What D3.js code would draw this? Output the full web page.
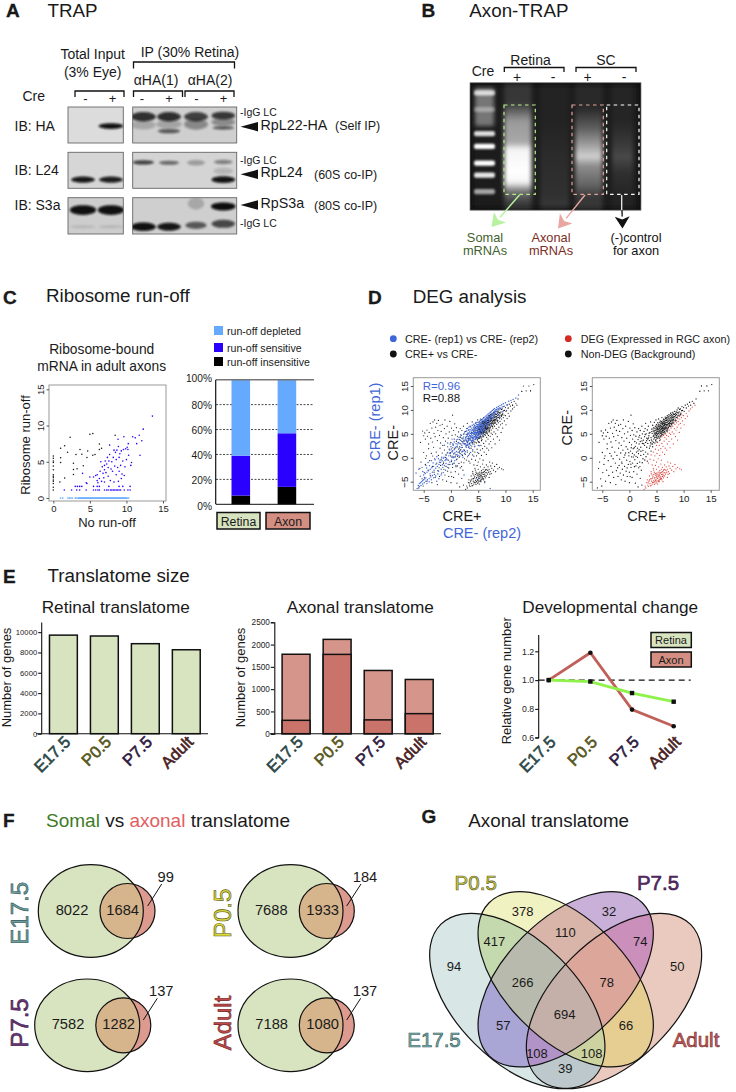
<!DOCTYPE html>
<html><head><meta charset="utf-8">
<script src="https://cdn.jsdelivr.net/npm/d3@7"></script>
<style>html,body{margin:0;padding:0;background:#fff}svg{display:block}text{font-family:"Liberation Sans",Arial,sans-serif;fill:#1a1a1a}</style>
</head><body><div id="c"></div>
<script>
// ---------- DATA ----------
const stages=["E17.5","P0.5","P7.5","Adult"];
const retinalGenes=[9706,9621,8864,8268];
const axonalTotal=[1783,2117,1419,1217];
const axonalInner=[300,1780,310,450];
const relRetina=[1,0.99,0.91,0.85];
const relAxon=[1,1.19,0.795,0.68];
const stackGroups=["Retina","Axon"];
const stackInsensitive=[7,14];
const stackSensitive=[32,43];
const stackDepleted=[61,43];
const stackNames=["run-off depleted","run-off sensitive","run-off insensitive"];
const pctTicks=[0,20,40,60,80,100];
const somalOnly=[8022,7688,7582,7188];
const overlap=[1684,1933,1282,1080];
const axonOnly=[99,184,137,137];
const venn4=[[[0],94],[[1],378],[[2],32],[[3],50],[[0,1],417],[[1,2],110],[[2,3],74],[[0,1,2],266],[[1,2,3],78],[[0,2],57],[[0,1,2,3],694],[[1,3],66],[[0,2,3],108],[[0,1,3],108],[[0,3],39]];
const runoffInsensitive=[[0,5.8],[0,5.5],[0,5.1],[0,4.9],[0,4.4],[0,3.9],[0,3.2],[0,3],[0,2.8],[0,2.5],[0,2.3],[0,2],[0,1.5],[0,1.1],[1,6.85],[1.55,7.2],[1,5.55],[1,4.9],[.9,2.2],[1.55,2.75],[1.95,6.3],[2.3,8.4],[2.75,4.8],[2.75,3.95],[2.75,3.25],[3.1,6],[3.25,4.05],[3.65,6.7],[3.9,6.05],[4.1,4.45],[4.6,5.6],[4.7,6.5],[5,8.8],[5.4,8.9],[5.4,5.9],[5.7,6],[6.3,7.45],[6.3,6.7],[6.6,6.85],[8.45,8.65]];
const runoffSensitive=[[13.55,11.3],[12.3,9.5],[11.75,8.65],[10.85,8.45],[11.2,8.3],[9.65,8.45],[8.85,8.1],[7.7,7.3],[12.1,7.9],[11.4,7.5],[10.25,7.5],[11.85,5.9],[10.7,4.9],[10.6,4.5],[1.5,1.1],[2.5,1.1],[3,1.6],[3.3,1.6],[3.6,1.6],[3.9,1.6],[3.2,1.1],[3.6,1.1],[4.5,1.1],[4.6,2],[5.5,1.1],[5.8,1.1],[6.1,1.1],[6.3,1.1],[7,1.1],[7.3,1.1],[7.5,1.1],[7.8,1.1],[8,1.1],[8.2,1.1],[8.4,1.1],[8.6,1.1],[8.8,1.1],[9,1.1],[9.2,1.1],[9.7,1.1],[10.2,1.1],[10.5,1.1],[5.5,1.6],[6,1.6],[6.3,1.6],[7.6,1.6],[9,1.6],[9.5,1.6],[10.5,1.6],[4,3.4],[4.5,2.1],[5,2.9],[5.5,2.9],[5.8,3.1],[6,2.4],[6,3.2],[6.1,2.1],[6.3,2.7],[6.4,3.7],[6.5,5],[6.6,2.3],[6.7,4.3],[6.8,3.4],[6.9,2.8],[7,3.9],[7,4.5],[7.1,5.1],[7,2.2],[7.2,3.5],[7.3,4.7],[7.4,5.6],[7.5,3],[7.5,4.2],[7.6,5.1],[7.7,6],[7.8,2.4],[7.9,4],[8,5],[8.1,3.7],[8.2,5.6],[8.3,2.2],[8.3,6.6],[8.4,4.4],[8.5,6.3],[8.6,3.2],[8.6,5.3],[8.7,6.6],[8.8,4.2],[8.9,2.3],[8.9,7.1],[9,5.6],[9,3.7],[9.1,6.1],[9.2,4.5],[9.3,2.7],[9.3,6.5],[9.4,3.3],[9.5,5.1],[9.6,6.7],[9.7,3.1],[9.8,4.3],[9.9,6.8],[10,5.3],[10.1,7],[10.2,6.7],[10.3,5.9]];
const runoffDepletedX=[1,1.3,2,2.2,2.4,2.6,3,3.2,3.4,3.5,3.6,3.7,3.8,3.9,4,4.1,4.2,4.3,4.4,4.5,4.6,4.7,4.8,4.9,5,5.1,5.2,5.3,5.4,5.5,5.6,5.7,5.8,5.9,6,6.1,6.2,6.3,6.4,6.5,6.6,6.7,6.8,6.9,7,7.1,7.2,7.3,7.4,7.5,7.6,7.7,7.8,7.9,8,8.1,8.2,8.3,8.4,8.5,8.6,8.7,8.8,8.9,9,9.1,9.2,9.3,9.4,9.5,9.6,9.7,9.8,9.9,10,10.1,10.3];
const nonDegSparse=[[-5.6,3.2],[-5.2,5.6],[-5,4.6],[-4.8,5.2],[-4.7,3.9],[-4.4,5.8],[-4.3,4.5],[-4.1,2.9],[-4,5.3],[-3.8,7.2],[-3.7,4.1],[-3.5,6.2],[-3.4,3.3],[-3.3,7.5],[-3.1,5.1],[-3,7.9],[-2.9,4.4],[-2.8,6.4],[-2.6,7.2],[-2.5,3.6],[-2.4,5.7],[-2.3,7.8],[-2.1,4.7],[-2,6.8],[-1.9,3.1],[-1.8,5.5],[-1.6,7],[-1.5,2.6],[-1.4,4.2],[-1.2,6.1],[-1.1,7.9],[-1,3.5],[-.9,5],[-.7,6.6],[-.6,2.3],[-.5,4.1],[-.3,5.4],[-.2,7.6],[0,3.2],[.1,6.2],[.2,4.7],[.3,8.9],[.4,2.7],[.5,5.7],[.6,3.9],[.7,7.1],[.8,4.8],[.9,2.1],[1,6.3],[1,3.4],
[-5.9,-6.3],[-5.7,-2.2],[-5.5,-.9],[-5.3,-4.4],[-5.1,-5.9],[-5,1.1],[-4.9,-3.1],[-4.7,-1.4],[-4.5,.4],[-4.4,-4.9],[-4.2,-2.6],[-4.1,1.9],[-3.9,-.6],[-3.8,-3.7],[-3.6,.9],[-3.5,-5.2],[-3.4,-1.8],[-3.2,2.2],[-3.1,-3],[-3,-.2],[-2.9,-4.1],[-2.7,1.2],[-2.6,-1.1],[-2.5,-5.6],[-2.4,-2.7],[-2.3,.5],[-2.1,-3.9],[-2,2],[-1.9,-1.6],[-1.8,-.3],[-1.7,-3.2],[-1.6,1],[-1.5,-4.6],[-1.4,-.9],[-1.3,-2.4],[-1.2,1.6],[-1.1,-3.6],[-1,.1],[-.9,-1.8],[-.8,-4.9],[-.7,1],[-.6,-2.8],[-.5,-.5],[-.4,-3.9],[-.3,1.8],[-.2,-1.4],[-.1,.4],[0,-3],[0,-5.2],[.1,-.8],[.2,1.4],[.3,-2],[.4,.2],[.5,-4.1],[.6,-1.1],[.7,1.9],[.8,-2.9],[.9,.6],[1,-.4],[1.1,-5.3],[1.2,-1.7],[1.3,1.2],[1.4,-3.4],[1.5,.1],[1.6,-6.1],[1.7,-2.1],[1.8,1.7],[1.9,-.9],[2,-4.3],[2.1,.5],[2.2,-2.6],[2.3,-5.7],[2.5,-.2],
[-1.37,-1.22],[-.84,.58],[-.41,-2.13],[-.12,1.07],[.27,-1.34],[.56,.93],[.93,-1.86],[1.22,.31],[1.46,-1.18],[1.68,.86],[1.94,-1.83],[2.13,1.36],[2.37,-1.04],[2.62,.72],[2.84,-.46],[3.06,.21],[3.29,-.71],[.34,2.09],[.71,.14],[1.58,1.41],[.13,-3.92],[-2.17,-2.08],[-3.34,.37],[-4.63,-.12]];
const nonDegCore=[[1.1,2.4],[1.2,4.5],[1.3,3.1],[1.4,5.4],[1.5,2],[1.6,3.8],[1.7,6.1],[1.8,2.9],[1.9,4.7],[2,3.4],[2,5.7],[2.1,2.2],[2.2,4.1],[2.3,6.6],[2.4,3],[2.4,5],[2.5,1.5],[2.6,3.7],[2.7,5.5],[2.8,2.6],[2.8,4.4],[2.9,6.1],[3,1.2],[3,3.2],[3,7.2],[3.1,5],[3.2,2.2],[3.2,4.1],[3.3,5.8],[3.4,.8],[3.4,3],[3.5,6.6],[3.6,4.6],[3.7,2],[3.7,3.6],[3.8,5.3],[3.9,7.5],[4,1.4],[4,2.9],[4,4.2],[4.1,6],[4.2,3.5],[4.2,5.1],
[4.3,6.8],[4.3,2.3],[4.4,4.5],[4.4,5.6],[4.5,3.9],[4.5,6.3],[4.6,5],[4.6,7.4],[4.7,3.1],[4.7,4.3],[4.7,5.7],[4.8,6.6],[4.8,4.8],[4.9,5.3],[4.9,7.9],[4.9,3.8],[5,6],[5,4.6],[5,5.1],[5,6.9],[5.1,5.6],[5.1,4.1],[5.1,6.4],[5.2,5],[5.2,7.3],[5.2,5.9],[5.3,4.5],[5.3,6.2],[5.3,6.8],[5.4,5.4],[5.4,5.9],[5.4,8.1],[5.5,4.8],[5.5,6.5],[5.5,7.4],[5.6,5.6],[5.6,6.1],[5.6,3.6],[5.7,5.1],[5.7,6.8],[5.7,7.7],[5.8,5.8],[5.8,6.3],[5.8,4.6],[5.9,5.4],[5.9,7.1],[5.9,6.6],[6,6],[6,8.4],[6,5.2],[6,7.4],[6.1,6.4],[6.1,5.7],[6.1,6.9],[6.2,5.3],[6.2,7.7],[6.2,6.2],[6.3,6.6],[6.3,7.2],[6.3,5.8],[6.4,8],[6.4,6.3],[6.4,5],[6.5,6.9],[6.5,7.5],[6.5,5.9],[6.6,6.5],[6.6,8.5],[6.7,7.1],[6.7,6.1],[6.7,7.8],[6.8,6.7],[6.8,5.6],[6.9,7.4],[6.9,8.2],[6.9,6.4],[7,7],[7,8.8],[7,6],[7.1,7.7],[7.1,6.7],[7.2,8.3],[7.2,7.2],[7.2,6.3],[7.3,7.9],[7.3,9],[7.4,7.4],[7.4,6.8],[7.5,8.5],[7.5,7.8],[7.6,7.2],[7.6,9.3],[7.7,8.1],[7.7,7.5],[7.8,8.7],[7.8,6.9],[7.9,7.9],[7.9,9.5],[8,8.4],[8,7.5],[8.1,9],[8.1,8],[8.2,8.6],[8.2,7.3],[8.3,9.7],[8.4,8.3],[8.4,9.1],[8.5,8.8],[8.6,7.8],[8.6,9.6],[8.7,9],[8.8,8.4],[8.8,10],[8.9,9.4],[9,8.9],[9,10.4],[9.2,9.6],[9.3,8.9],[9.4,10.2],[9.5,9.3],[9.7,10.7],[9.8,9.9],[10,10.5],[10.1,9.7],[10.3,11],[10.5,10.4],[10.7,11.2],[10.9,10.8],[11.1,11.6],[11.3,11],[11.6,11.8],[11.9,11.4],[12.3,12.3],[13,13.9],[13.3,15],[13.8,14],[14.3,15],[14.6,14],[15.2,15.3],
[3.37,3.92],[3.64,5.13],[3.82,2.46],[4.06,3.74],[4.13,5.47],[4.28,2.88],[4.36,6.03],[4.43,3.27],[4.52,4.71],[4.57,5.39],[4.64,4.17],[4.73,6.14],[4.76,5.02],[4.84,3.56],[4.87,5.76],[4.93,4.29],[4.96,6.42],[5.04,5.37],[5.07,3.33],[5.13,4.82],[5.16,6.13],[5.23,5.48],[5.27,4.13],[5.31,6.57],[5.36,5.11],[5.42,7.02],[5.46,4.37],[5.48,5.63],[5.53,6.22],[5.58,4.12],[5.61,5.24],[5.63,6.83],[5.68,5.87],[5.72,4.38],[5.74,7.26],[5.78,5.43],[5.83,6.54],[5.86,5.02],[5.88,7.58],[5.92,6.08],[5.96,4.76],[6.03,6.47],[6.04,5.53],[6.07,7.17],[6.12,6.08],[6.16,4.86],[6.18,7.39],[6.23,5.66],[6.27,6.83],[6.29,8.06],[6.34,6.14],[6.36,7.57],[6.38,5.36],[6.43,6.76],[6.46,7.22],[6.49,5.53],[6.53,6.17],[6.57,7.73],[6.59,5.21],[6.63,6.93],[6.66,8.17],[6.69,6.36],[6.74,7.37],[6.77,5.83],[6.79,8.42],[6.83,6.94],[6.87,7.79],[6.93,6.17],[6.96,8.04],[7.03,7.46],[7.06,5.63],[7.08,8.48],[7.13,7.03],[7.17,6.42],[7.24,7.68],[7.27,8.67],[7.33,7.16],[7.36,6.58],[7.43,8.14],[7.46,7.07],[7.53,8.86],[7.57,7.63],[7.63,6.53],[7.66,8.36],[7.74,7.13],[7.76,9.02],[7.83,7.83],[7.87,8.33],[7.93,7.26],[7.96,8.76],[8.04,7.87],[8.07,9.3],[8.13,8.34],[8.23,7.72],[8.27,9.07],[8.36,8.62],[8.45,7.92],[8.53,9.28],[8.66,8.43],[8.76,9.53],[8.94,8.72],[9.07,9.37],[9.26,10.1],[9.44,9.03],[9.63,9.83],[3.18,3.57],[2.64,2.93],[2.92,4.86],[3.53,4.13],[2.33,3.52],[1.76,4.31],[3.94,3.16]];
const nonDeg=nonDegSparse.concat(nonDegCore);
const degLower=[[2.7,-6.6],[2.9,-5.9],[3,-6.3],[3.2,-5.2],[3.3,-4.6],[3.4,-5.7],[3.5,-6],[3.6,-4.9],[3.7,-3.8],[3.8,-5.4],[3.9,-4.4],[4,-5.8],[4,-2.9],[4.1,-4.9],[4.2,-3.6],[4.2,-5.5],[4.3,-4.2],[4.4,-5.1],[4.4,-2.2],[4.5,-3.5],[4.5,-4.7],[4.6,-5.6],[4.6,-3],[4.7,-4.1],[4.7,-5],[4.8,-3.6],[4.8,-1.6],[4.9,-4.5],[4.9,-5.3],[5,-3.2],[5,-4],[5,-2.4],[5.1,-4.8],[5.1,-3.6],[5.2,-5.5],[5.2,-4.3],[5.3,-3],[5.3,-3.9],[5.4,-4.7],[5.4,-1.9],[5.5,-3.4],[5.5,-5],[5.5,-4.2],[5.6,-2.7],[5.6,-3.8],[5.7,-4.5],[5.7,-3.2],[5.8,-1.3],[5.8,-4],[5.9,-2.4],[5.9,-3.5],[6,-4.6],[6,-3],[6.1,-3.9],[6.1,-2],[6.2,-3.4],[6.2,-5],[6.3,-2.6],[6.3,-4.2],[6.4,-3.1],[6.5,-1.5],[6.5,-3.8],[6.6,-2.5],[6.7,-3.4],[6.8,-1.9],[6.9,-3],[7,-4.1],[7,-2.4],[7.1,-.9],[7.2,-2.9],[7.3,-1.7],[7.4,-3.3],[7.5,-2.2],[7.6,-1.1],[7.8,-2.6],[8,-1.8],[8.2,-2.9],[8.4,-1.4],[8.6,-2.3],[8.9,-2],[9.3,-2.3],[9.6,-2.5],
[4.14,-4.37],[4.26,-5.13],[4.37,-3.86],[4.54,-5.24],[4.62,-4.38],[4.76,-3.27],[4.83,-4.76],[4.94,-3.62],[5.04,-5.06],[5.13,-4.23],[5.26,-3.42],[5.33,-4.94],[5.46,-3.73],[5.52,-4.63],[5.63,-3.14],[5.74,-4.26],[5.86,-3.03],[5.93,-4.36],[6.04,-3.46],[6.16,-2.87],[6.27,-3.76],[6.43,-2.43],[6.58,-3.13],[6.76,-2.66],[7.13,-3.42],[3.46,-5.23],[3.72,-4.63],[3.86,-5.87],[4.03,-3.33],[4.47,-2.57]];
const degUpper=[[3.5,-1.1],[3.8,-.3],[4,.6],[4.2,-1.5],[4.4,1.2],[4.5,-.5],[4.7,.4],[4.8,1.8],[5,-.9],[5,2.6],[5.1,.9],[5.2,3.2],[5.3,-.2],[5.4,1.6],[5.5,2.6],[5.6,.5],[5.7,3.8],[5.8,1.9],[5.9,-.5],[6,3],[6,4.4],[6.1,1.2],[6.2,2.4],[6.3,4.7],[6.4,3.5],[6.5,.7],[6.6,2],[6.7,5],[6.8,3.9],[6.9,1.6],[7,2.9],[7,5.4],[7.2,4.5],[7.3,3.4],[7.4,5.8],[7.5,2.1],[7.6,4.9],[7.7,6.2],[7.8,3.9],[7.9,5.4],[8,6.6],[8.1,2.9],[8.2,5],[8.3,6.1],[8.4,7],[8.5,4.4],[8.6,5.8],[8.7,7.3],[8.8,6.4],[8.9,3.7],[9,7.6],[9.1,6.9],[9.2,5.3],[9.3,8.1],[9.4,7.2],[9.5,6.2],[9.6,8.4],[9.8,7.7],[10,8.8],[10.1,6.9],[10.3,8.2],[10.5,9.3],[10.7,8.7],[11,9.8],[11.3,10.2],[11.6,10.6],[12.1,11],[7.14,6.04],[7.62,6.63],[7.37,5.17],[8.07,7.24],[8.54,7.62],[8.93,8.17],[6.54,4.27],[6.87,4.68],[9.27,8.63],[9.73,8.94]];
const deg=degLower.concat(degUpper);
const replicate=[[-6.2,-6.4],[-6,-5.8],[-5.8,-5.4],[-5.6,-5.2],[-5.4,-5],[-5.2,-4.8],[-5,-4.6],[-4.8,-4.4],[-4.6,-4.2],[-5.8,-6],[-5.5,-5.8],[-5.2,-5.5],[-4.9,-5.2],[-4.6,-4.9],[-4.3,-4.6],[-4,-4.3],[-3.7,-4],[-3.4,-3.7],[-5,-3.6],[-4.7,-3.3],[-4.4,-3],[-4.1,-2.7],[-3.8,-2.4],[-3.5,-2.1],[-3.2,-1.8],[-6.4,-3.2],[-5.9,-2.4],[-5.3,-2],[-4.6,-1.6],[-4.2,-1],[-3.6,-.6],[-4.4,-5.4],[-4,-5],[-3.6,-4.6],[-3.2,-4.2],[-2.8,-3.8],[-2.4,-3.4],[-3.4,-3],[-3.1,-2.6],[-2.8,-2.2],[-2.5,-1.8],[-2.2,-1.4],[-1.9,-1],[-2.6,-4.9],[-2.2,-4.4],[-1.8,-3.6],[-1.4,-3.1],[-1,-2.6],[-.6,-2],[-2.9,-.4],[-2.6,.2],[-2.3,-.2],[-2,-.5],[-1.7,.1],[-1.4,-.1],[-1.1,-.6],[-.8,-.1],[-1.8,-2.4],[-1.5,-2],[-1.2,-1.6],[-.9,-1.2],[-.5,-1.4],[-.2,-.9],[.1,-.5],[.4,-1.2],[.7,-.6],[-.4,.4],[-.1,.9],[.2,.3],[.5,.8],[.8,.2],[1.1,.7],[-1,.6],[-.6,1.1],[-.2,1.6],[.2,1.2],[.6,1.7],[1,1.3],[1.4,1.8],[0,2.3],[.4,2.6],[.8,2.2],[1.2,2.7],[1.6,2.3],[.6,3.3],[1,3.7],[1.4,3.2],[1.8,3.6],[2.2,3.1],[2,1.2],[2.4,1.7],[2.8,2.2],[1.6,.3],[2,.7],[2.5,.9],[3,1.5],[3.4,2],[3.2,.5],[3.6,1.1],[4,1.7],[4.4,2.4],[4.2,.3],[-1.2,2.6],[-.6,3.1],[4.9,1.1],[5.2,2.5],[7.2,-6.4],[6.2,-5.2],[5.1,-4.4],[2.4,-3.6],
[1.5,4.3],[1.8,4.8],[2,4.1],[2.2,3.9],[2.3,4.9],[2.5,3.5],[2.5,5.4],[2.7,2.9],[2.7,4.2],[2.8,4.9],[2.9,3.4],[2.9,5.6],[3,4],[3,4.7],[3,6.1],[3.1,3.1],[3.1,5.2],[3.2,4.4],[3.2,5.8],[3.3,3.6],[3.3,4.9],[3.3,6.4],[3.4,4.1],[3.4,5.4],[3.5,3.1],[3.5,4.6],[3.5,5.9],[3.6,3.7],[3.6,5.1],[3.6,6.5],[3.7,4.3],[3.7,5.6],[3.8,3.4],[3.8,4.8],[3.8,6.2],[3.9,4],[3.9,5.3],[3.9,6.8],[4,3.6],[4,4.6],[4,5.8],[4.1,4.2],[4.1,5.1],[4.1,6.4],[4.2,3.3],[4.2,4.8],[4.2,5.6],[4.2,7],[4.3,4.4],[4.3,5.3],[4.3,6.1],[4.4,3.8],[4.4,4.9],[4.4,5.8],[4.4,6.7],[4.5,4.4],[4.5,5.3],[4.5,6.2],[4.5,7.2],[4.6,3.9],[4.6,4.8],[4.6,5.7],[4.6,6.6],[4.7,4.5],[4.7,5.3],[4.7,6.1],[4.7,7],[4.8,4.1],[4.8,5],[4.8,5.8],[4.8,6.5],[4.8,7.4],[4.9,4.6],[4.9,5.5],[4.9,6.2],[4.9,6.9],[5,4.2],[5,5.1],[5,5.9],[5,6.6],[5,7.4],[5.1,4.8],[5.1,5.5],[5.1,6.2],[5.1,7],[5.2,4.4],[5.2,5.3],[5.2,6],[5.2,6.7],[5.2,7.6],[5.3,5],[5.3,5.7],[5.3,6.4],[5.3,7.1],[5.4,4.6],[5.4,5.4],[5.4,6.2],[5.4,6.9],[5.4,7.8],[5.5,5.2],[5.5,5.9],[5.5,6.6],[5.5,7.4],[5.6,4.9],[5.6,5.6],[5.6,6.4],[5.6,7.1],[5.6,8],[5.7,5.4],[5.7,6.1],[5.7,6.8],[5.7,7.6],[5.8,5],[5.8,5.8],[5.8,6.6],[5.8,7.3],[5.8,8.1],[5.9,5.5],[5.9,6.3],[5.9,7],[5.9,7.8],[6,5.9],[6,6.7],[6,7.5],[6,8.3],[6.1,5.4],[6.1,6.3],[6.1,7.1],[6.1,7.9],[6.2,5.9],[6.2,6.8],[6.2,7.6],[6.2,8.5],[6.3,6.4],[6.3,7.3],[6.3,8.1],[6.4,5.8],[6.4,6.9],[6.4,7.8],[6.4,8.7],[6.5,6.4],[6.5,7.4],[6.5,8.3],[6.6,7],[6.6,7.9],[6.6,8.9],[6.7,6.6],[6.7,7.5],[6.7,8.5],[6.8,7.1],[6.8,8.1],[6.8,9.1],[6.9,7.7],[6.9,8.7],[7,7.2],[7,8.3],[7,9.3],[7.1,7.9],[7.1,8.9],[7.2,8.5],[7.2,9.5],[7.3,8.1],[7.3,9.1],[7.4,8.7],[7.4,9.7],[7.5,8.3],[7.5,9.3],[7.6,8.9],[7.6,9.9],[7.7,8.5],[7.8,9.5],[7.8,10.1],[7.9,9],[8,9.8],[8,10.3],[8.1,9.3],[8.2,10],[8.3,9.6],[8.4,10.5],[8.5,10],[8.6,9.3],[8.7,10.7],[8.8,10.2],[9,10.9],[9.1,10.3],[9.3,11.1],[9.4,10.6],[9.6,11.3],[9.8,10.8],[10,11.5],[10.3,11.1],[10.6,11.8],[11,12],[11.4,12.2],[11.9,12.5],[12.4,13.1],[7.4,6.9],[8.3,7.9],[9,8.4],[9.5,9.6],[10.2,9.9],[8.8,8.9],[3,2.6],[3.3,2.3],[2,2.6],[1.7,1.5],[.2,3.9],[2.2,.1],[.9,-1.6],
[2.14,3.36],[2.34,4.37],[2.46,2.84],[2.63,3.93],[2.76,2.42],[2.86,3.67],[2.93,4.42],[3.07,3.41],[3.14,2.67],[3.23,3.87],[3.27,5.12],[3.36,2.83],[3.43,4.62],[3.54,3.94],[3.58,2.64],[3.66,4.51],[3.73,3.16],[3.76,5.14],[3.84,4.27],[3.87,5.82],[3.93,3.53],[4.03,5.13],[4.07,4.03],[4.16,5.62],[4.23,4.37],[4.27,6.44],[4.34,5.02],[4.46,4.13],[4.53,5.77],[4.64,5.21],[4.72,4.16],[4.77,6.47],[4.86,5.36],[4.94,4.24],[5.03,6.27],[5.13,5.84],[5.24,4.97],[5.34,6.86],[5.43,5.63],[5.57,6.93],[5.66,5.13],[5.76,6.37],[5.87,7.46],[5.94,6.67],[6.06,5.63],[6.14,7.43],[6.26,6.16],[6.33,7.84],[6.44,7.16],[6.54,8.03],[6.64,6.72],[6.73,8.26],[6.84,7.46],[6.94,8.41],[7.06,7.63],[7.16,8.66],[7.26,7.73],[7.36,8.36],[7.47,9.03],[7.64,8.24],[7.74,9.26],[7.93,8.64],[8.14,9.66],[8.34,10.07],[8.63,10.23],[8.94,10.43],
[.34,1.46],[.74,1.06],[1.17,2.23],[1.53,1.12],[1.87,2.14],[2.23,1.42],[2.64,1.27],[2.97,2.73],[.17,.06],[-.27,.97],[-.73,-.41],[-1.26,.13],[-1.63,-.63],[-2.12,-.93],[-2.76,-1.36],[-3.26,-1.07],[-3.93,-1.64],[-4.46,-2.13],[-5.17,-2.87],[-5.63,-3.86],[-4.86,-4.13],[-3.83,-3.36],[-3.03,-3.47],[-2.27,-2.83],[-1.57,-1.47],[-.96,-.36],[.46,.03],[1.3,.47],[1.12,-.26],[.07,1.83],[.93,2.93],[1.63,2.97],[1.27,3.87],[.36,2.94],[-.14,2.86]];
// layout helpers for figure pieces that are only scheme images in the original
const blotRows=[{n:"IB: HA",bg:"#dcdcdc",bgR:"#cfcfcf"},{n:"IB: L24",bg:"#d6d6d6",bgR:"#d4d4d4"},{n:"IB: S3a",bg:"#cdcdcd",bgR:"#cfcfcf"}];
// row, lane(0-5), fractional y in blot, relative width, fractional height, darkness
const blotBands=[[0,1,.53,1,.16,.98],[0,2,.27,1,.26,.82],[0,3,.27,.95,.26,.82],[0,4,.27,.95,.26,.74],[0,5,.24,.95,.22,.78],[0,2,.5,1,.25,.2],[0,3,.48,1,.25,.22],[0,4,.48,.95,.3,.36],[0,5,.42,.95,.22,.35],[0,3,.67,.9,.12,.62],[0,5,.58,.85,.09,.68],
[1,0,.76,.95,.17,.95],[1,1,.76,.95,.17,.92],[1,2,.28,.85,.12,.75],[1,3,.29,.8,.11,.55],[1,4,.29,.7,.15,.28],[1,5,.27,.75,.12,.42],[1,5,.52,.8,.18,.15],[1,5,.76,.95,.19,.97],
[2,0,.34,1.05,.27,.98],[2,1,.34,1.05,.27,.98],[2,0,.8,1,.08,.12],[2,1,.8,1,.08,.12],[2,2,.8,1,.24,.98],[2,3,.8,.95,.22,.95],[2,4,.16,.65,.34,.2],[2,4,.76,.85,.2,.62],[2,5,.24,.98,.22,1],[2,5,.72,.95,.22,.7]];
const gelLadder=[[.08,.75],[.21,.35],[.4,.85],[.5,1],[.63,1],[.725,.9],[.855,.6]];
const gelSmears=[
 {x0:.2,x1:.36,stops:[[.16,.12],[.3,.55],[.47,.62],[.52,.95],[.7,1],[.78,.96],[.85,.4],[.95,.12]]},
 {x0:.41,x1:.58,stops:[[.3,.03],[.6,.07],[.88,.09],[.96,.12],[1,.04]]},
 {x0:.615,x1:.775,stops:[[.2,.06],[.36,.3],[.5,.6],[.58,.8],[.65,.5],[.8,.32],[.9,.12]]},
 {x0:.83,x1:.955,stops:[[.3,.04],[.5,.14],[.58,.2],[.7,.09],[.9,.03]]}];
const gelBoxes=[["#b6f08c",504,535.3],["#e3a39a",572,603.3],["#ffffff",606.7,639]];

// ---------- CANVAS ----------
const svg=d3.select("#c").append("svg").attr("width",736).attr("height",1092);
const defs=svg.append("defs");
[["blur1",1],["blur2",2],["blur3",3.2],["blurS",.35]].forEach(([id,s])=>defs.append("filter").attr("id",id).attr("x","-40%").attr("y","-60%").attr("width","180%").attr("height","220%").append("feGaussianBlur").attr("stdDeviation",s));
function T(x,y,s,size,o={}){const t=svg.append("text").attr("x",x).attr("y",y).attr("font-size",size).text(s);
 if(o.a)t.attr("text-anchor",o.a);if(o.f)t.style("fill",o.f);if(o.w)t.attr("font-weight",o.w);if(o.s)t.style("stroke",o.s).style("stroke-width",o.sw||.4);return t;}
function R(cx,cy,s,size,o={}){const t=svg.append("text").attr("transform",`translate(${cx},${cy}) rotate(-90)`).attr("text-anchor","middle").attr("dy",".35em").attr("font-size",size).text(s);
 if(o.f)t.style("fill",o.f);if(o.s)t.style("stroke",o.s).style("stroke-width",o.sw||.4);return t;}
function L(x1,y1,x2,y2,c="#111",w=1,dash){const l=svg.append("line").attr("x1",x1).attr("y1",y1).attr("x2",x2).attr("y2",y2).style("stroke",c).style("stroke-width",w);if(dash)l.style("stroke-dasharray",dash);return l;}
function bracket(x1,x2,y1,y2){svg.append("path").attr("d",`M${x1},${y2}V${y1}H${x2}V${y2}`).attr("fill","none").style("stroke","#111").style("stroke-width",1.3);}

const letters=[["A",6,17],["B",421.5,17],["C",3,304],["D",368,304],["E",3,582.5],["F",3,826.5],["G",421.5,822.5]];
letters.forEach(l=>T(l[1],l[2],l[0],19,{w:"bold",s:"#111",sw:.3}));
[["TRAP",47.5,17],["Axon-TRAP",469.3,17],["Ribosome run-off",46,301.5],["DEG analysis",412.7,302.5],["Translatome size",47.5,581.5],["Axonal translatome",468.3,827]].forEach(t=>T(t[1],t[2],t[0],18.8));

// ---------- PANEL A ----------
const rowY=[[107,143],[152.3,188.3],[197.7,234]];
const laneX=[83,111,143.3,169,196,223.3];
rowY.forEach((r,i)=>{[[68,123.3,"bg"],[132.7,236.7,"bgR"]].forEach(([a,b,k])=>{
  const id=`cb${i}${k}`;defs.append("clipPath").attr("id",id).append("rect").attr("x",a).attr("y",r[0]).attr("width",b-a).attr("height",r[1]-r[0]);
  svg.append("rect").attr("x",a).attr("y",r[0]).attr("width",b-a).attr("height",r[1]-r[0]).attr("fill",blotRows[i][k]).style("stroke","#666").style("stroke-width",.9);
  const g=svg.append("g").attr("clip-path",`url(#${id})`);
  blotBands.filter(d=>d[0]===i&&((laneX[d[1]]<125)===(k==="bg"))).forEach(d=>{
    g.append("ellipse").attr("cx",laneX[d[1]]).attr("cy",r[0]+d[2]*(r[1]-r[0])).attr("rx",12.5*d[3]).attr("ry",d[4]*(r[1]-r[0])/2).attr("fill","#0a0a0a").attr("opacity",d[5]).attr("filter","url(#blur1)");
  });
 });
 T(14.5,[130.5,175,210][i],blotRows[i].n,14);
});
T(92.7,58.7,"Total Input",14,{a:"middle"});T(92.7,77,"(3% Eye)",14,{a:"middle"});
T(190,56.7,"IP (30% Retina)",14,{a:"middle"});
bracket(133.5,234.5,62,68.5);
T(156,85,"αHA(1)",14,{a:"middle"});T(210,85,"αHA(2)",14,{a:"middle"});
T(22.5,100.5,"Cre",14);
bracket(75,124,91,97);bracket(133.5,182.5,91,97);bracket(185,234,91,97);
[["-",85.5],["+",112.5],["-",142],["+",169],["-",196.5],["+",223.5]].forEach(d=>T(d[1],103,d[0],13,{a:"middle"}));
[[116,"-IgG LC"],[163.5,"-IgG LC"],[227,"-IgG LC"]].forEach(d=>T(240,d[0],d[1],10.5));
[[126.7],[174.3],[205]].forEach(d=>svg.append("path").attr("d",`M240.5,${d[0]}L258,${d[0]-4.7}V${d[0]+4.7}Z`).attr("fill","#111"));
T(260.5,129.5,"RpL22-HA",14.3);T(335,129.5,"(Self IP)",12.5);
T(260.5,177,"RpL24",14.3);T(314,179,"(60S co-IP)",12.5);
T(260.5,208,"RpS3a",14.3);T(314,210,"(80S co-IP)",12.5);

// ---------- PANEL B ----------
const gel={x:470,y:82.7,w:171,h:127.5};
defs.append("clipPath").attr("id","gelclip").append("rect").attr("x",gel.x).attr("y",gel.y).attr("width",gel.w).attr("height",gel.h);
svg.append("rect").attr("x",gel.x).attr("y",gel.y).attr("width",gel.w).attr("height",gel.h).attr("fill","#0d0d0d").style("stroke","#888").style("stroke-width",.8);
const gg=svg.append("g").attr("clip-path","url(#gelclip)");
gg.append("rect").attr("x",gel.x+2).attr("y",gel.y+2).attr("width",gel.w-4).attr("height",gel.h-4).attr("fill","#1c1c1c").attr("filter","url(#blur3)");
gelSmears.forEach((s,i)=>{const lg=defs.append("linearGradient").attr("id","sm"+i).attr("x1",0).attr("x2",0).attr("y1",0).attr("y2",1);
 s.stops.forEach(st=>lg.append("stop").attr("offset",st[0]).attr("stop-color","#fff").attr("stop-opacity",st[1]));
 gg.append("rect").attr("x",gel.x+s.x0*gel.w).attr("y",gel.y).attr("width",(s.x1-s.x0)*gel.w).attr("height",gel.h).attr("fill",`url(#sm${i})`).attr("filter","url(#blur2)");});
gg.append("rect").attr("x",475).attr("y",gel.y+.04*gel.h).attr("width",19).attr("height",gel.h*.3).attr("fill","#fff").attr("opacity",.4).attr("filter","url(#blur2)");
gelLadder.forEach(b=>gg.append("rect").attr("x",474).attr("y",gel.y+b[0]*gel.h-2.6).attr("width",21).attr("height",5.2).attr("rx",2).attr("fill","#fff").attr("opacity",b[1]).attr("filter","url(#blur1)"));
gelBoxes.forEach(b=>svg.append("rect").attr("x",b[1]).attr("y",105).attr("width",b[2]-b[1]).attr("height",89.3).attr("fill","none").style("stroke",b[0]).style("stroke-width",1.2).style("stroke-dasharray","3.5,3.5"));
T(483,75.5,"Cre",14,{a:"middle"});
T(530.5,64.5,"Retina",14,{a:"middle"});T(606,64.5,"SC",14,{a:"middle"});
bracket(504.3,564,67.5,72);bracket(576,636,67.5,72);
[["+",517],["-",553],["+",587.5],["-",624]].forEach(d=>T(d[1],82,d[0],14,{a:"middle"}));
function arrow(x1,y1,x2,y2,c,w,hs){const a=Math.atan2(y2-y1,x2-x1),bx=x2-hs*Math.cos(a),by=y2-hs*Math.sin(a);
 L(x1,y1,bx,by,c,w);const nx=-Math.sin(a)*hs*.62,ny=Math.cos(a)*hs*.62;
 svg.append("path").attr("d",`M${x2},${y2}L${bx+nx},${by+ny}L${bx+.25*hs*Math.cos(a)},${by+.25*hs*Math.sin(a)}L${bx-nx},${by-ny}Z`).attr("fill",c);}
arrow(519.5,195,491.5,227,"#b7f2a0",1.4,13);
arrow(585,195,558,228.5,"#e9a7a2",1.4,13);
L(621.7,195,621.7,213,"#eee",1.3);
arrow(622,210,622.5,228.5,"#111",1.3,12);
[["Somal",485,242,"#3f5f2e"],["mRNAs",485,255,"#3f5f2e"],["Axonal",551,242,"#7c2e24"],["mRNAs",551,255,"#7c2e24"],["(-)control",636,242,"#111"],["for axon",636,255,"#111"]].forEach(d=>T(d[1],d[2],d[0],12.8,{a:"middle",f:d[3]}));

// ---------- PANEL C ----------
function frame(x0,x1,y0,y1){svg.append("rect").attr("x",x0).attr("y",y0).attr("width",x1-x0).attr("height",y1-y0).attr("fill","none").style("stroke","#999").style("stroke-width",1);}
function rAxes(x,y,ty,by,xt,yt,size,len){
 const gx=svg.append("g").attr("transform",`translate(0,${by})`).call(d3.axisBottom(x).tickValues(xt).tickSize(len).tickPadding(2));
 const gy=svg.append("g").attr("transform",`translate(${ty},0)`).call(d3.axisLeft(y).tickValues(yt).tickSize(len).tickPadding(2));
 [gx,gy].forEach(g=>{g.select(".domain").remove();g.selectAll("line").style("stroke","#555");g.selectAll("text").attr("font-size",size).style("fill","#222").style("font-family",'"Liberation Sans"');});
 gy.selectAll("text").attr("transform","rotate(-90)").attr("x",0).attr("y",-(len+3)).attr("dy",0).attr("text-anchor","middle");
}
const cx=d3.scaleLinear([0,15],[53.3,163]),cy=d3.scaleLinear([0,15],[498,389.3]);
frame(49,166,385,501);rAxes(cx,cy,49,501,[0,5,10,15],[0,5,10,15],9.5,2.5);
const dot=(sel,data,x,y,c,r)=>sel.selectAll(null).data(data).join("circle").attr("cx",d=>x(d[0])).attr("cy",d=>y(d[1])).attr("r",r).attr("fill",c);
dot(svg.append("g"),runoffDepletedX.map(v=>[v,0]),cx,cy,"#66aaff",.85);
dot(svg.append("g"),runoffInsensitive,cx,cy,"#111",.75);
dot(svg.append("g"),runoffSensitive,cx,cy,"#2a00ff",.8);
T(101.7,354,"Ribosome-bound",13.8,{a:"middle"});T(101.7,370.7,"mRNA in adult axons",13.8,{a:"middle"});
R(25.7,445,"Ribosome run-off",13);T(107,527,"No run-off",13,{a:"middle"});

const stackColors=["#66aaff","#2a00ff","#000"];
[326,343,357].forEach((y,i)=>{svg.append("rect").attr("x",214).attr("y",y).attr("width",9).attr("height",9).attr("fill",stackColors[i]);T(227,y+8.5,stackNames[i],10.6);});
const sy=d3.scaleLinear([0,100],[504.3,379.7]);
pctTicks.slice(1,5).forEach(t=>L(216,sy(t),314,sy(t),"#333",.9,"2,1.5"));
const stack=d3.stack().keys([0,1,2]).value((d,k)=>d[k])(stackGroups.map((g,i)=>[stackInsensitive[i],stackSensitive[i],stackDepleted[i]]));
const colorOrder=["#000","#2a00ff","#66aaff"];
const sx=d3.scaleBand(stackGroups,[214.9,312.8]).paddingInner(.597).paddingOuter(.36);
stack.forEach((s,k)=>svg.append("g").selectAll("rect").data(s).join("rect").attr("x",(d,i)=>sx(stackGroups[i])).attr("width",sx.bandwidth()).attr("y",d=>sy(d[1])).attr("height",d=>sy(d[0])-sy(d[1])).attr("fill",colorOrder[k]));
L(216,sy(100),314,sy(100),"#777",1.4);L(216,sy(0),314,sy(0),"#111",1);L(215.7,sy(0),215.7,sy(100),"#111",1.2);
pctTicks.forEach(t=>T(212,sy(t)+3.5+(t===100?-1:t===0?2:1),t+"%",10.2,{a:"end"}));
[["Retina",217,43,"#d8e4c0"],["Axon",266,44,"#d48f82"]].forEach(b=>{svg.append("rect").attr("x",b[1]).attr("y",512.5).attr("width",b[2]).attr("height",16.5).attr("fill",b[3]).style("stroke","#111").style("stroke-width",1.5);T(b[1]+b[2]/2,525.5,b[0],12.3,{a:"middle"});});

// ---------- PANEL D ----------
function degFrame(x0,x1,x5,x15){
 const x=d3.scaleLinear([-5,15],[x5,x15]),y=d3.scaleLinear([-5,15],[481.7,386]);
 frame(x0,x1,377.7,490.3);rAxes(x,y,x0,490.3,[-5,0,5,10,15],[-5,0,5,10,15],9.8,2.5);return[x,y];}
const clipD=(id,x0,x1)=>defs.append("clipPath").attr("id",id).append("rect").attr("x",x0).attr("y",377.7).attr("width",x1-x0).attr("height",112.6);
clipD("d1",413.3,540.3);clipD("d2",592.3,719.3);
const [d1x,d1y]=degFrame(413.3,540.3,423.7,532.7);
const [d2x,d2y]=degFrame(592.3,719.3,602.3,710.7);
const gd1=svg.append("g").attr("clip-path","url(#d1)"),gd2=svg.append("g").attr("clip-path","url(#d2)");
dot(gd1.append("g"),nonDeg.concat(deg),d1x,d1y,"#1a1a1a",.6);
dot(gd1.append("g"),replicate,d1x,d1y,"#3f66d8",.72);
dot(gd1.append("g"),nonDegCore.filter((d,i)=>i%4===0&&d[0]>5),d1x,d1y,"#1a1a1a",.6);
dot(gd2.append("g"),deg,d2x,d2y,"#d83a34",.6);
dot(gd2.append("g"),nonDeg,d2x,d2y,"#141414",.65);
[[393.3,338.7,"#3f66d8"],[393.3,354,"#111"],[568.3,338.7,"#d32a24"],[568.3,354,"#111"]].forEach(d=>svg.append("circle").attr("cx",d[0]).attr("cy",d[1]).attr("r",3.4).attr("fill",d[2]));
[[405,342.5,"CRE- (rep1) vs CRE- (rep2)"],[405,357.5,"CRE+ vs CRE-"],[580.7,342.5,"DEG (Expressed in RGC axon)"],[580.7,357.5,"Non-DEG (Background)"]].forEach(d=>T(d[0],d[1],d[2],10.8));
R(375,421.7,"CRE- (rep1)",14.5,{f:"#3f66d8"});R(393,442.7,"CRE-",14.5);
T(422.7,390,"R=0.96",11.5,{f:"#3f66d8"});T(422.7,402,"R=0.88",11.5);
T(462,520.7,"CRE+",14.5,{a:"middle"});T(482,538,"CRE- (rep2)",14.5,{a:"middle",f:"#3f66d8"});
R(567,427.7,"CRE-",14.5);T(646.7,520.5,"CRE+",14.5,{a:"middle"});

// ---------- PANEL E ----------
T(41.7,613.3,"Retinal translatome",17.2);T(286.7,613.3,"Axonal translatome",17.2);T(522.3,613.3,"Developmental change",17.2);
const stageColors=["#2b4747","#57571c","#2f1a40","#4a1f24"];
function leftAxis(y,x,ticks,size,fmt){const g=svg.append("g").attr("transform",`translate(${x},0)`).call(d3.axisLeft(y).tickValues(ticks).tickSize(3.5).tickPadding(1).tickFormat(fmt));
 g.selectAll("line,path").style("stroke","#111").style("stroke-width",1.1);g.selectAll("text").attr("font-size",size).style("fill","#222").style("font-family",'"Liberation Sans"');return g;}
function stageLabels(xs,yTop,tickOff){stages.forEach((s,i)=>svg.append("text").attr("transform",`translate(${xs[i]+tickOff},${yTop}) rotate(-45)`).attr("text-anchor","end").attr("font-size",16.5).style("fill",stageColors[i]).style("stroke",stageColors[i]).style("stroke-width",.6).text(s));}
const rxBand=d3.scaleBand(stages,[41.7,208]).paddingInner(.32).paddingOuter(.19);
const ry=d3.scaleLinear([0,11000],[733.7,622]);
svg.append("g").selectAll("rect").data(retinalGenes).join("rect").attr("x",(d,i)=>rxBand(stages[i])).attr("width",rxBand.bandwidth()).attr("y",d=>ry(d)).attr("height",d=>ry(0)-ry(d)).attr("fill","#d8e4c0").style("stroke","#111").style("stroke-width",1.5);
leftAxis(ry,41.7,[0,2000,4000,6000,8000,10000],7.7,d3.format("d")).select(".domain").attr("d","M0,622.5V733.7");
L(36,733.7,208,733.7,"#111",1.1);
R(6.5,677.5,"Number of genes",13);
stageLabels(stages.map(s=>rxBand(s)+rxBand.bandwidth()/2),743,8);

const axBand=d3.scaleBand(stages,[274.3,441]).paddingInner(.32).paddingOuter(.19);
const ay=d3.scaleLinear([0,2500],[733.7,622.3]);
svg.append("g").selectAll("rect").data(axonalTotal).join("rect").attr("x",(d,i)=>axBand(stages[i])).attr("width",axBand.bandwidth()).attr("y",d=>ay(d)).attr("height",d=>ay(0)-ay(d)).attr("fill","#d5958a").style("stroke","#111").style("stroke-width",1.5);
svg.append("g").selectAll("rect").data(axonalInner).join("rect").attr("x",(d,i)=>axBand(stages[i])).attr("width",axBand.bandwidth()).attr("y",d=>ay(d)).attr("height",d=>ay(0)-ay(d)).attr("fill","#c9736a").style("stroke","#111").style("stroke-width",1.5);
leftAxis(ay,274.3,[0,500,1000,1500,2000,2500],8.2,d3.format("d"));
L(270,733.7,441,733.7,"#111",1.1);
R(240,677.5,"Number of genes",13);
stageLabels(stages.map(s=>axBand(s)+axBand.bandwidth()/2),743,8);

const lx=d3.scalePoint(stages,[548.7,673.7]);
const ly=d3.scaleLinear([.6,1.2],[737.7,651.3]);
const gy2=leftAxis(ly,538.7,[.6,.8,1,1.2],8.7,d3.format(".1f"));gy2.select(".domain").attr("d","M0,635V737.7H-3.5");
L(538.7,ly(1),690.7,ly(1),"#111",1.3,"6,4");
const line=d3.line().x((d,i)=>lx(stages[i])).y(d=>ly(d));
svg.append("path").attr("d",line(relAxon)).attr("fill","none").style("stroke","#c0605a").style("stroke-width",2.8);
svg.append("path").attr("d",line(relRetina)).attr("fill","none").style("stroke","#8ef24a").style("stroke-width",2.8);
svg.append("g").selectAll("circle").data(relAxon).join("circle").attr("cx",(d,i)=>lx(stages[i])).attr("cy",d=>ly(d)).attr("r",2.3).attr("fill","#111");
svg.append("g").selectAll("rect").data(relRetina).join("rect").attr("x",(d,i)=>lx(stages[i])-2.2).attr("y",d=>ly(d)-2.2).attr("width",4.4).attr("height",4.4).attr("fill","#111");
R(506,680.7,"Relative gene number",13);
stageLabels(stages.map(s=>lx(s)),743,8);
[["Retina",632.5,"#d8e4c0"],["Axon",652,"#d48f82"]].forEach(b=>{svg.append("rect").attr("x",651).attr("y",b[1]).attr("width",40.3).attr("height",15).attr("fill",b[2]).style("stroke","#111").style("stroke-width",1.5);T(671,b[1]+11.5,b[0],11,{a:"middle"});});

// ---------- PANEL F ----------
const t=T(46,827.3,"",19);
t.append("tspan").text("Somal").style("fill","#3f7a28");t.append("tspan").text(" vs ").style("fill","#1a1a1a");t.append("tspan").text("axonal").style("fill","#e0605f");t.append("tspan").text(" translatome").style("fill","#1a1a1a");
const fLabelColors=[["#6f9fa0","#2f5555"],["#dcd93a","#555520"],["#6b3579","#3a1a45"],["#c04a4a","#702525"]];
const fLayout=[[38.3,911,127.5,72,122.7,915.3,165.7,881.7,[147.7,906,161.7,884],19.3,913.3],[238,911,326.8,271.3,322.7,915.3,365,881.7,[346.7,906,361,884],222.7,913.3],[34.7,1025.3,123.3,68,118.7,1029,161.3,995.7,[143.3,1020,157.3,998.3],20,1023],[238,1025.3,326.8,271.7,322.7,1029,365,995.7,[346.7,1020,360.7,998.3],222.7,1023]];
const fRx=52.5,fRy=46.3,fR=27.5;
stages.forEach((s,i)=>{const f=fLayout[i],ecx=f[0]+fRx,g=svg.append("g"),cid="fe"+i;
 defs.append("clipPath").attr("id",cid).append("ellipse").attr("cx",ecx).attr("cy",f[1]).attr("rx",fRx).attr("ry",fRy);
 g.append("ellipse").attr("cx",ecx).attr("cy",f[1]).attr("rx",fRx).attr("ry",fRy).attr("fill","#d8e4c0");
 g.append("circle").attr("cx",f[2]).attr("cy",f[1]).attr("r",fR).attr("fill","#dd9a8e");
 g.append("circle").attr("cx",f[2]).attr("cy",f[1]).attr("r",fR).attr("fill","#d6b48c").attr("clip-path",`url(#${cid})`);
 g.append("ellipse").attr("cx",ecx).attr("cy",f[1]).attr("rx",fRx).attr("ry",fRy).attr("fill","none").style("stroke","#111").style("stroke-width",1.2);
 g.append("circle").attr("cx",f[2]).attr("cy",f[1]).attr("r",fR).attr("fill","none").style("stroke","#111").style("stroke-width",1.2);
 T(f[3],f[5],somalOnly[i],14.7,{a:"middle"});T(f[4],f[5],overlap[i],14.7,{a:"middle"});T(f[6],f[7],axonOnly[i],14.7,{a:"middle"});
 L(f[8][0],f[8][1],f[8][2],f[8][3],"#111",1);
 R(f[9],f[10],s,24,{f:fLabelColors[i][0],s:fLabelColors[i][1],sw:.6});
});

// ---------- PANEL G ----------
const vA=108.3,vB=60.3;
const vC=[[517.3,1001,-45],[565.7,979.3,-45],[565.7,979.3,45],[614,1001,45]];
vC.forEach((c,i)=>defs.append("clipPath").attr("id","ve"+i).append("ellipse").attr("rx",vA).attr("ry",vB).attr("transform",`translate(${c[0]},${c[1]}) rotate(${c[2]+90})`));
const vennColor={"0":"#d8e6e6","1":"#f1f2c2","2":"#c9b0d8","3":"#eacabf","0,1":"#c5d9ae","1,2":"#d9b4a8","2,3":"#cb8fbb","0,1,2":"#b9baae","1,2,3":"#dca69b","0,2":"#a9a5d5","0,1,2,3":"#c4afa9","1,3":"#e6ce92","0,2,3":"#b293c7","0,1,3":"#ccd3a0","0,3":"#bcc8cb"};
const vennLabel={"0":[162,530],"1":[368,363],"2":[627,363],"3":[832,530],"0,1":[283,453],"1,2":[496,428],"2,3":[721,455],"0,1,2":[368,577],"1,2,3":[620,577],"0,2":[310,705],"0,1,2,3":[494,672],"1,3":[678,705],"0,2,3":[411,789],"0,1,3":[575,789],"0,3":[496,835]};
venn4.slice().sort((a,b)=>a[0].length-b[0].length).forEach(([sets])=>{
 let g=svg.append("g");sets.slice(1).forEach(s=>{g=g.append("g").attr("clip-path",`url(#ve${s})`);});
 const c=vC[sets[0]];g.append("ellipse").attr("rx",vA).attr("ry",vB).attr("transform",`translate(${c[0]},${c[1]}) rotate(${c[2]+90})`).attr("fill",vennColor[sets.join(",")]);
});
vC.forEach(c=>svg.append("ellipse").attr("rx",vA).attr("ry",vB).attr("transform",`translate(${c[0]},${c[1]}) rotate(${c[2]+90})`).attr("fill","none").style("stroke","#111").style("stroke-width",1.2));
venn4.forEach(([sets,v])=>{const p=vennLabel[sets.join(",")];T(400+p[0]/3,790+p[1]/3+4.6,v,13,{a:"middle"});});
[["P0.5",475.7,890,"#d0cd45","#55551f"],["P7.5",658,890,"#5c2a6e","#3a1a45"],["E17.5",434,1046.7,"#7fb0b0","#2f5555"],["Adult",696,1046.7,"#c86060","#702525"]].forEach(d=>T(d[1],d[2],d[0],20.5,{a:"middle",f:d[3],s:d[4],sw:.6}));
</script></body></html>
